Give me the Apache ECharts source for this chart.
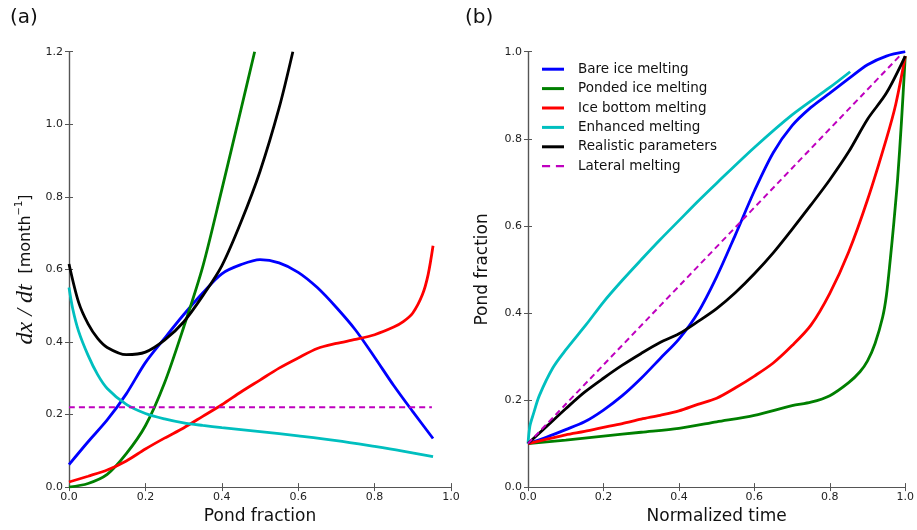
<!DOCTYPE html>
<html>
<head>
<meta charset="utf-8">
<script src="https://cdn.jsdelivr.net/npm/echarts@6/dist/echarts.min.js"></script>
<style>html,body{margin:0;padding:0;background:#fff;}#c{width:917px;height:530px;}</style>
</head>
<body>
<div id="c"></div>
<script>
// ---- Panel (a): dx/dt vs pond fraction ----
const aBare = [[0,0.062],[0.05,0.125],[0.1,0.185],[0.15,0.257],[0.2,0.343],[0.25,0.41],[0.3,0.475],[0.35,0.535],[0.4,0.588],[0.45,0.613],[0.5,0.627],[0.55,0.618],[0.6,0.592],[0.65,0.55],[0.7,0.495],[0.75,0.433],[0.8,0.358],[0.85,0.28],[0.9,0.208],[0.953,0.134]];
const aPonded = [[0,0],[0.05,0.01],[0.1,0.035],[0.15,0.092],[0.2,0.169],[0.25,0.287],[0.3,0.44],[0.35,0.607],[0.4,0.82],[0.45,1.04],[0.486,1.2]];
const aBottom = [[0,0.014],[0.05,0.03],[0.1,0.047],[0.15,0.072],[0.2,0.105],[0.25,0.135],[0.3,0.163],[0.35,0.195],[0.4,0.227],[0.45,0.262],[0.5,0.295],[0.55,0.328],[0.6,0.356],[0.65,0.382],[0.7,0.396],[0.75,0.407],[0.8,0.42],[0.85,0.441],[0.875,0.456],[0.9,0.48],[0.925,0.53],[0.94,0.585],[0.953,0.665]];
const aEnhanced = [[0,0.55],[0.01,0.49],[0.025,0.43],[0.05,0.363],[0.075,0.31],[0.1,0.272],[0.15,0.228],[0.2,0.203],[0.25,0.188],[0.3,0.177],[0.35,0.17],[0.4,0.164],[0.5,0.153],[0.6,0.141],[0.7,0.128],[0.8,0.112],[0.87,0.1],[0.953,0.084]];
const aRealistic = [[0,0.615],[0.025,0.51],[0.05,0.45],[0.075,0.41],[0.1,0.385],[0.15,0.365],[0.2,0.372],[0.25,0.405],[0.3,0.455],[0.35,0.527],[0.4,0.61],[0.45,0.73],[0.5,0.87],[0.55,1.045],[0.586,1.2]];
const aLateral = [[0,0.22],[0.95,0.22]];

// ---- Panel (b): pond fraction vs normalized time ----
const bBare = [[0,0.1],[0.05,0.115],[0.1,0.132],[0.15,0.15],[0.2,0.177],[0.25,0.21],[0.3,0.25],[0.35,0.295],[0.4,0.34],[0.45,0.4],[0.5,0.483],[0.55,0.58],[0.6,0.68],[0.65,0.768],[0.7,0.83],[0.75,0.872],[0.8,0.905],[0.85,0.938],[0.9,0.97],[0.95,0.99],[1.0,1.0]];
const bPonded = [[0,0.1],[0.1,0.108],[0.2,0.117],[0.3,0.126],[0.4,0.135],[0.5,0.15],[0.6,0.165],[0.7,0.187],[0.75,0.195],[0.8,0.21],[0.85,0.24],[0.88,0.265],[0.9,0.29],[0.92,0.33],[0.94,0.39],[0.95,0.44],[0.96,0.52],[0.97,0.61],[0.98,0.71],[0.99,0.84],[1.0,0.99]];
const bBottom = [[0,0.1],[0.05,0.11],[0.1,0.12],[0.15,0.128],[0.2,0.137],[0.25,0.146],[0.3,0.156],[0.35,0.165],[0.4,0.175],[0.45,0.19],[0.5,0.204],[0.55,0.228],[0.6,0.255],[0.65,0.285],[0.7,0.325],[0.75,0.372],[0.8,0.445],[0.85,0.54],[0.9,0.66],[0.95,0.8],[0.975,0.88],[1.0,0.99]];
const bEnhanced = [[0,0.1],[0.005,0.14],[0.014,0.167],[0.03,0.21],[0.066,0.274],[0.1,0.315],[0.154,0.373],[0.2,0.425],[0.25,0.475],[0.3,0.522],[0.35,0.568],[0.4,0.612],[0.45,0.656],[0.5,0.698],[0.6,0.78],[0.7,0.855],[0.8,0.918],[0.854,0.954]];
const bRealistic = [[0,0.1],[0.05,0.14],[0.1,0.18],[0.15,0.218],[0.2,0.25],[0.25,0.28],[0.3,0.307],[0.35,0.332],[0.4,0.352],[0.45,0.38],[0.5,0.41],[0.55,0.447],[0.6,0.49],[0.65,0.538],[0.7,0.592],[0.75,0.648],[0.8,0.706],[0.85,0.77],[0.9,0.845],[0.95,0.905],[1.0,0.99]];
const bLateral = [[0,0.1],[0.985,0.99]];

const seriesNames = ['Bare ice melting','Ponded ice melting','Ice bottom melting','Enhanced melting','Realistic parameters','Lateral melting'];
const seriesColors = ['#0000ff','#007f00','#ff0000','#00bfbf','#000000','#bf00bf'];

const FONT = 'DejaVu Sans';
const AX = '#555';

function xAx(grid, pos, name){
  return {type:'value', gridIndex:grid, position:pos, min:0, max:1, interval:0.2,
    name: name||'', nameLocation:'middle', nameGap:19,
    nameTextStyle:{fontFamily:FONT, fontSize:17, color:'#111'},
    axisLine:{show:true, lineStyle:{color:AX, width:1.2}},
    axisTick:{show:true, inside:true, length:4, lineStyle:{color:AX}},
    axisLabel:{show:pos==='bottom', fontFamily:FONT, fontSize:11, color:'#222', margin:5,
      formatter:v=>v.toFixed(1)},
    splitLine:{show:false}};
}
function yAx(grid, pos, max, name, gap, rich){
  return {type:'value', gridIndex:grid, position:pos, min:0, max:max, interval:0.2,
    name: name||'', nameLocation:'middle', nameGap:gap||40,
    nameTextStyle:{fontFamily:FONT, fontSize:17, color:'#111', rich:rich||undefined},
    axisLine:{show:true, lineStyle:{color:AX, width:1.2}},
    axisTick:{show:true, inside:true, length:4, lineStyle:{color:AX}},
    axisLabel:{show:pos==='left', fontFamily:FONT, fontSize:11, color:'#222', margin:6,
      formatter:v=>v.toFixed(1)},
    splitLine:{show:false}};
}

const rich = {
  m:{fontFamily:'Liberation Serif', fontStyle:'italic', fontSize:24, color:'#111'},
  s:{fontFamily:FONT, fontSize:16, color:'#111'},
  p:{fontFamily:FONT, fontSize:10, color:'#111', verticalAlign:'top', padding:[0,0,10,0]}
};

const SOLID_ICON = 'path://M0,0H22V3H0Z';
const DASH_ICON = 'path://M0,0H7V2H0Z M12,0H19V2H12Z';

function mk(i, data, xi, yi){
  return {name:seriesNames[i], type:'line', xAxisIndex:xi, yAxisIndex:yi, data:data,
    showSymbol:false, symbol:'none', smooth:0.3,
    lineStyle:{color:seriesColors[i], width: i===5?2:2.8, type: i===5?[6,4]:'solid'},
    itemStyle:{color:seriesColors[i]}, z: 3};
}

const option = {
  animation:false,
  backgroundColor:'#fff',
  title:[
    {text:'(a)', left:5, top:3, textStyle:{fontFamily:FONT, fontSize:20, fontWeight:'normal', color:'#111'}},
    {text:'(b)', left:460, top:3, textStyle:{fontFamily:FONT, fontSize:20, fontWeight:'normal', color:'#111'}}
  ],
  grid:[
    {left:69, top:51.7, width:382, height:438.3},
    {left:528, top:51.7, width:381, height:438.3}
  ],
  legend:{
    data: seriesNames.map((n,i)=>({name:n, icon: i===5?DASH_ICON:SOLID_ICON})),
    orient:'vertical', left:542, top:59.5, padding:0,
    itemWidth:22, itemHeight:3, itemGap:0,
    textStyle:{fontFamily:FONT, fontSize:13.5, color:'#111', lineHeight:19.4, padding:[0,0,0,9]}},
  xAxis:[
    xAx(0,'bottom','Pond fraction'), xAx(0,'top'),
    xAx(1,'bottom','Normalized time'), xAx(1,'top')
  ],
  yAxis:[
    yAx(0,'left',1.2,'{m|dx / dt}  {s|[month}{p|−1}{s|]}', 31, rich), yAx(0,'right',1.2),
    yAx(1,'left',1.0,'Pond fraction', 37), yAx(1,'right',1.0)
  ],
  series:[
    mk(0,aBare,0,0), mk(1,aPonded,0,0), mk(2,aBottom,0,0), mk(3,aEnhanced,0,0), mk(4,aRealistic,0,0), mk(5,aLateral,0,0),
    mk(0,bBare,2,2), mk(1,bPonded,2,2), mk(2,bBottom,2,2), mk(3,bEnhanced,2,2), mk(4,bRealistic,2,2), mk(5,bLateral,2,2)
  ]
};

const chart = echarts.init(document.getElementById('c'), null, {renderer:'canvas'});
chart.setOption(option);
</script>
</body>
</html>
